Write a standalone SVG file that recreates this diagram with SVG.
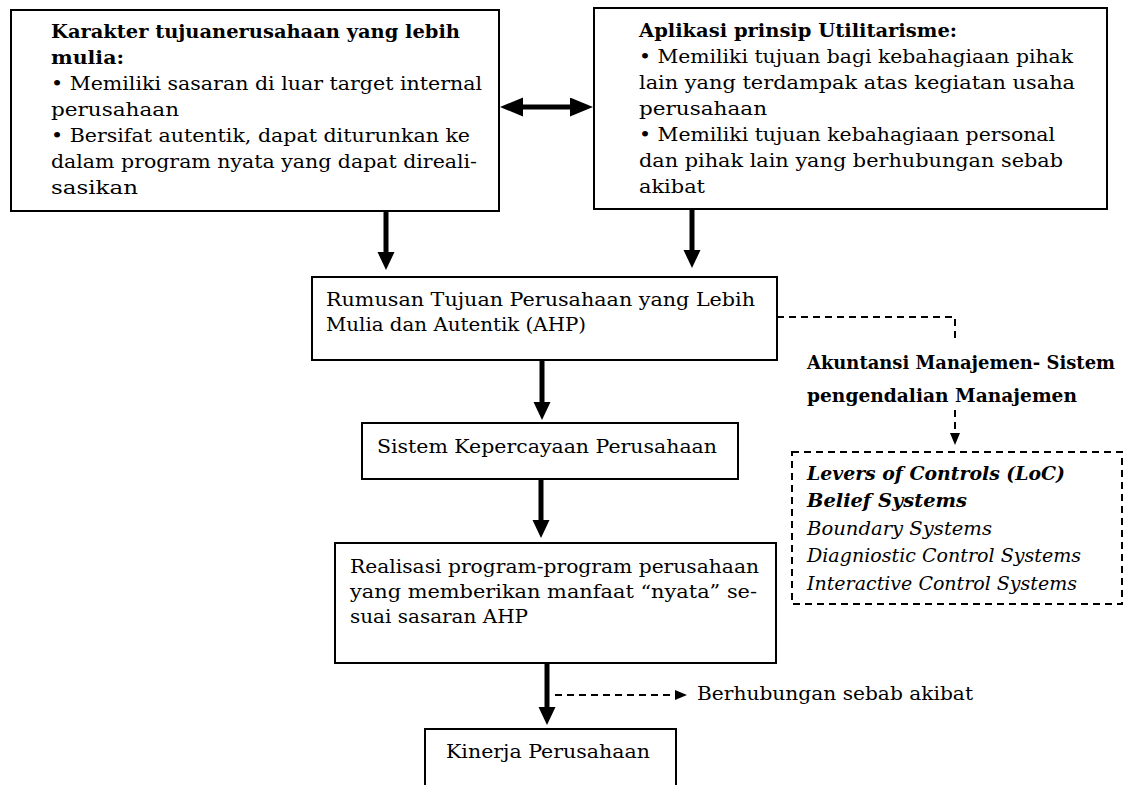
<svg xmlns="http://www.w3.org/2000/svg" width="1137" height="785" viewBox="0 0 1137 785">
<style>
.box{fill:#fff;stroke:#000;stroke-width:2}
.dbox{fill:none;stroke:#000;stroke-width:2;stroke-dasharray:7 5}
text{font-family:"DejaVu Serif","Liberation Serif",serif;fill:#000}
.t{font-size:19px}
.b{font-size:18.5px;font-weight:bold}
.i{font-size:19px;font-style:italic}
.bi{font-size:19px;font-style:italic;font-weight:bold}
.thick{stroke:#000;stroke-width:5;fill:none}
.dash{stroke:#000;stroke-width:2;fill:none;stroke-dasharray:7 5}
</style>
<defs>
<marker id="ah" markerUnits="userSpaceOnUse" markerWidth="20" markerHeight="20" refX="6" refY="8.5" orient="auto"><path d="M0,0 L18,8.5 L0,17 Z" fill="#000"/></marker>
<marker id="ah2" markerUnits="userSpaceOnUse" markerWidth="25" markerHeight="21" refX="8" refY="9.5" orient="auto-start-reverse"><path d="M0,0 L23,9.5 L0,19 Z" fill="#000"/></marker>
<marker id="ahs" markerUnits="userSpaceOnUse" markerWidth="14" markerHeight="12" refX="6" refY="5" orient="auto"><path d="M0,0 L12,5 L0,10 Z" fill="#000"/></marker>
</defs>
<rect width="1137" height="785" fill="#fff"/>

<g id="connectors">
<line class="thick" x1="515" y1="107" x2="578" y2="107" marker-start="url(#ah2)" marker-end="url(#ah2)"/>
<line class="thick" x1="386" y1="211" x2="386" y2="258" marker-end="url(#ah)"/>
<line class="thick" x1="692" y1="209" x2="692" y2="256" marker-end="url(#ah)"/>
<line class="thick" x1="542" y1="360" x2="542" y2="408" marker-end="url(#ah)"/>
<line class="thick" x1="541" y1="479" x2="541" y2="526" marker-end="url(#ah)"/>
<line class="thick" x1="547" y1="663" x2="547" y2="713" marker-end="url(#ah)"/>
<path class="dash" d="M777,317 H955 V340"/>
<line class="dash" x1="955" y1="410" x2="955" y2="439" marker-end="url(#ahs)"/>
<line class="dash" x1="555" y1="695" x2="681" y2="695" marker-end="url(#ahs)"/>
</g>

<g id="node-karakter">
<rect class="box" x="11" y="10" width="488" height="201"/>
<text class="b" x="51" y="38" textLength="409" lengthAdjust="spacingAndGlyphs">Karakter tujuanerusahaan yang lebih</text>
<text class="b" x="51" y="64" textLength="73" lengthAdjust="spacingAndGlyphs">mulia:</text>
<text class="t" x="51" y="90" textLength="431" lengthAdjust="spacingAndGlyphs">• Memiliki sasaran di luar target internal</text>
<text class="t" x="51" y="116" textLength="128" lengthAdjust="spacingAndGlyphs">perusahaan</text>
<text class="t" x="51" y="142" textLength="419" lengthAdjust="spacingAndGlyphs">• Bersifat autentik, dapat diturunkan ke</text>
<text class="t" x="51" y="168" textLength="426" lengthAdjust="spacingAndGlyphs">dalam program nyata yang dapat direali-</text>
<text class="t" x="51" y="194" textLength="87" lengthAdjust="spacingAndGlyphs">sasikan</text>
</g>

<g id="node-utilitarisme">
<rect class="box" x="594" y="8" width="513" height="201"/>
<text class="b" x="639" y="37" textLength="318" lengthAdjust="spacingAndGlyphs">Aplikasi prinsip Utilitarisme:</text>
<text class="t" x="639" y="63" textLength="434" lengthAdjust="spacingAndGlyphs">• Memiliki tujuan bagi kebahagiaan pihak</text>
<text class="t" x="639" y="89" textLength="436" lengthAdjust="spacingAndGlyphs">lain yang terdampak atas kegiatan usaha</text>
<text class="t" x="639" y="115" textLength="128" lengthAdjust="spacingAndGlyphs">perusahaan</text>
<text class="t" x="639" y="141" textLength="416" lengthAdjust="spacingAndGlyphs">• Memiliki tujuan kebahagiaan personal</text>
<text class="t" x="639" y="167" textLength="424" lengthAdjust="spacingAndGlyphs">dan pihak lain yang berhubungan sebab</text>
<text class="t" x="639" y="193" textLength="66" lengthAdjust="spacingAndGlyphs">akibat</text>
</g>

<g id="node-rumusan">
<rect class="box" x="312" y="277" width="465" height="83"/>
<text class="t" x="326" y="306" textLength="429" lengthAdjust="spacingAndGlyphs">Rumusan Tujuan Perusahaan yang Lebih</text>
<text class="t" x="326" y="331" textLength="260" lengthAdjust="spacingAndGlyphs">Mulia dan Autentik (AHP)</text>
</g>

<g id="label-akuntansi">
<text class="b" x="807" y="369" textLength="308" lengthAdjust="spacingAndGlyphs">Akuntansi Manajemen- Sistem</text>
<text class="b" x="807" y="402" textLength="270" lengthAdjust="spacingAndGlyphs">pengendalian Manajemen</text>
</g>

<g id="node-sistem">
<rect class="box" x="362" y="423" width="376" height="56"/>
<text class="t" x="377" y="453" textLength="340" lengthAdjust="spacingAndGlyphs">Sistem Kepercayaan Perusahaan</text>
</g>

<g id="node-loc">
<rect class="dbox" x="792" y="452" width="330" height="152"/>
<text class="bi" x="807" y="480" textLength="258" lengthAdjust="spacingAndGlyphs">Levers of Controls (LoC)</text>
<text class="bi" x="807" y="507" textLength="160" lengthAdjust="spacingAndGlyphs">Belief Systems</text>
<text class="i" x="807" y="535" textLength="185" lengthAdjust="spacingAndGlyphs">Boundary Systems</text>
<text class="i" x="807" y="562" textLength="274" lengthAdjust="spacingAndGlyphs">Diagniostic Control Systems</text>
<text class="i" x="807" y="590" textLength="270" lengthAdjust="spacingAndGlyphs">Interactive Control Systems</text>
</g>

<g id="node-realisasi">
<rect class="box" x="335" y="543" width="441" height="120"/>
<text class="t" x="350" y="573" textLength="409" lengthAdjust="spacingAndGlyphs">Realisasi program-program perusahaan</text>
<text class="t" x="350" y="598" textLength="407" lengthAdjust="spacingAndGlyphs">yang memberikan manfaat “nyata” se-</text>
<text class="t" x="350" y="623" textLength="178" lengthAdjust="spacingAndGlyphs">suai sasaran AHP</text>
</g>

<g id="label-berhubungan">
<text class="t" x="697" y="700" textLength="276" lengthAdjust="spacingAndGlyphs">Berhubungan sebab akibat</text>
</g>

<g id="node-kinerja">
<rect class="box" x="425" y="729" width="251" height="80"/>
<text class="t" x="446" y="758" textLength="204" lengthAdjust="spacingAndGlyphs">Kinerja Perusahaan</text>
</g>
</svg>
